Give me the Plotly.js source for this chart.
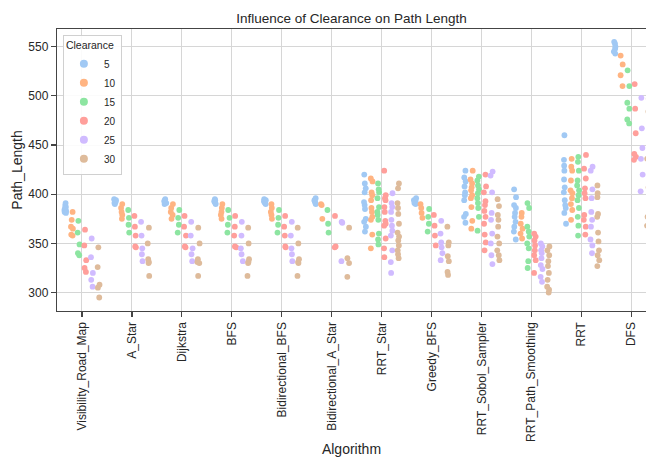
<!DOCTYPE html>
<html><head><meta charset="utf-8">
<script src="https://cdn.plot.ly/plotly-3.0.1.min.js"></script>
<style>html,body{margin:0;padding:0;overflow:hidden;background:#fff}</style>
</head><body><div id="chart" style="width:646px;height:457px"></div>
<script>
const algorithms = ["Visibility_Road_Map","A_Star","Dijkstra","BFS","Bidirectional_BFS","Bidirectional_A_Star","RRT_Star","Greedy_BFS","RRT_Sobol_Sampler","RRT_Path_Smoothing","RRT","DFS"];
const clearances = [5, 10, 15, 20, 25, 30];
const colors = ["#a1c9f4", "#ffb482", "#8de5a1", "#ff9f9b", "#d0bbff", "#debb9b"];

// each array: one list of path lengths per clearance (5,10,15,20,25,30)
const visibilityRoadMap = [
  [391, 389, 387, 386, 384, 383, 382, 381],
  [382, 374, 367, 365, 359, 358],
  [373, 361, 349, 340, 338],
  [364, 348, 333, 325, 321],
  [355, 336, 320, 313, 306],
  [346, 326, 308, 305, 295]
];
const aStar = [
  [395, 394, 393, 392, 391, 390],
  [390, 386, 382, 379, 375],
  [384, 376, 369, 361],
  [378, 367, 358, 347, 346],
  [372, 358, 345, 339, 332],
  [366, 350, 334, 331, 330, 317]
];
const dijkstra = [
  [395, 394, 393, 392, 391, 390],
  [390, 386, 382, 379, 375],
  [384, 376, 369, 361],
  [378, 367, 358, 347, 346],
  [372, 358, 345, 339, 332],
  [366, 350, 334, 331, 330, 317]
];
const bfs = [
  [395, 394, 393, 392, 391, 390],
  [390, 386, 382, 379, 375],
  [384, 376, 369, 361],
  [378, 367, 358, 347, 346],
  [372, 358, 345, 339, 332],
  [366, 350, 334, 331, 330, 317]
];
const bidirectionalBfs = [
  [395, 394, 393, 392, 391, 390],
  [390, 386, 382, 379, 375],
  [384, 376, 369, 361],
  [378, 367, 358, 347, 346],
  [372, 358, 345, 339, 332],
  [366, 350, 334, 331, 330, 317]
];
const bidirectionalAStar = [
  [396, 394, 393, 391, 390],
  [390, 389, 375],
  [384, 370, 361],
  [378, 347, 346],
  [372, 371, 332],
  [366, 335, 330, 316]
];
const rrtStar = [
  [420, 411, 406, 402, 392, 389, 385, 375, 372, 367, 362],
  [416, 413, 402, 399, 394, 386, 382, 377, 374, 359, 345],
  [411, 405, 402, 396, 387, 382, 379, 374, 360, 354, 349],
  [424, 399, 396, 394, 387, 382, 373, 370, 368, 355, 345, 336],
  [401, 391, 387, 382, 374, 368, 363, 358, 343, 331, 320],
  [411, 406, 391, 386, 380, 370, 361, 357, 353, 348, 343, 339, 335]
];
const greedyBfs = [
  [396, 394, 393, 392, 391, 390],
  [390, 386, 381, 376],
  [385, 377, 370, 362],
  [379, 368, 358, 348],
  [373, 360, 351, 346, 340, 333],
  [367, 351, 348, 337, 332, 321, 318]
];
const rrtSobolSampler = [
  [424, 417, 413, 408, 402, 399, 394, 380, 377, 371],
  [424, 415, 411, 407, 404, 399, 396, 387, 373, 365],
  [418, 414, 409, 405, 401, 396, 391, 386, 377, 363],
  [420, 408, 402, 393, 389, 383, 377, 370, 359, 351, 343],
  [423, 419, 402, 381, 374, 360, 350, 338, 329],
  [395, 388, 379, 374, 367, 357, 350, 343, 338, 333]
];
const rrtPathSmoothing = [
  [405, 397, 389, 386, 381, 377, 372, 367, 362, 354],
  [381, 377, 370, 365, 360, 355],
  [391, 386, 367, 362, 357, 350, 345, 332, 325],
  [360, 357, 353, 348, 343, 338, 333, 320],
  [350, 347, 343, 340, 335, 328, 324, 316, 311],
  [347, 343, 338, 332, 327, 320, 313, 306, 303, 300]
];
const rrt = [
  [460, 435, 429, 424, 415, 407, 402, 394, 389, 386, 381, 370],
  [436, 428, 424, 414, 404, 401, 396, 390, 384, 374],
  [438, 433, 424, 414, 409, 404, 399, 394, 386, 377, 368, 358],
  [440, 426, 416, 406, 401, 396, 379, 374, 367, 359],
  [428, 424, 405, 396, 382, 374, 367, 354, 348, 340],
  [409, 401, 397, 380, 377, 361, 352, 343, 338, 333, 327]
];
const dfs = [
  [555, 553, 550, 548, 545, 543],
  [541, 532, 521, 510],
  [526, 510, 493, 487, 476, 472],
  [512, 487, 462, 441, 438, 435],
  [498, 467, 447, 436, 420, 403],
  [497, 484, 436, 407, 377, 368]
];

const algorithmData = [visibilityRoadMap, aStar, dijkstra, bfs, bidirectionalBfs, bidirectionalAStar,
  rrtStar, greedyBfs, rrtSobolSampler, rrtPathSmoothing, rrt, dfs];

const traces = [];
clearances.forEach((c, h) => {
  const xs = [], ys = [];
  algorithms.forEach((a, i) => {
    algorithmData[i][h].forEach(v => { xs.push(a); ys.push(v); });
  });
  traces.push({
    type: 'box', x: xs, y: ys, name: String(c),
    boxpoints: 'all', jitter: 0.35, pointpos: 0,
    fillcolor: 'rgba(0,0,0,0)', line: {width: 0, color: 'rgba(0,0,0,0)'}, whiskerwidth: 0,
    marker: {color: colors[h], size: 5.8, opacity: 1, line: {width: 0}},
    showlegend: false, hoverinfo: 'skip'
  });
});
clearances.forEach((c, h) => {
  traces.push({
    type: 'scatter', mode: 'markers', x: [null], y: [null], name: String(c),
    marker: {color: colors[h], size: 8}, showlegend: true, hoverinfo: 'skip'
  });
});

const fontFam = '"Liberation Sans", Arial, sans-serif';
const layout = {
  width: 646, height: 457,
  margin: {l: 57, r: 0, t: 29, b: 146},
  paper_bgcolor: '#fff', plot_bgcolor: '#fff',
  font: {family: fontFam, color: '#262626', size: 12},
  title: {text: 'Influence of Clearance on Path Length', font: {size: 13.5, color: '#262626'},
          x: 0.5, xref: 'paper', xanchor: 'center', y: 1 - 18/457, yref: 'container', yanchor: 'middle'},
  boxmode: 'group', boxgap: 0.2, boxgroupgap: 0,
  xaxis: {
    type: 'category', categoryorder: 'array', categoryarray: algorithms,
    range: [-0.5, 11.29], showgrid: true, gridcolor: '#d6d6d6', gridwidth: 1,
    showline: true, linecolor: '#444', linewidth: 1.25, mirror: true,
    ticks: 'outside', ticklen: 5, tickwidth: 1.2, tickcolor: '#444',
    tickangle: -90, tickfont: {size: 12, color: '#262626'},
    title: {text: 'Algorithm', font: {size: 14, color: '#262626'}, standoff: 8},
    zeroline: false, automargin: false
  },
  yaxis: {
    range: [281.3, 568], dtick: 50, tick0: 300,
    showgrid: true, gridcolor: '#d6d6d6', gridwidth: 1,
    showline: true, linecolor: '#444', linewidth: 1.25, mirror: false,
    ticks: 'outside', ticklen: 5, tickwidth: 1.2, tickcolor: '#444',
    tickfont: {size: 12, color: '#262626'},
    title: {text: 'Path_Length', font: {size: 14, color: '#262626'}, standoff: 2},
    zeroline: false, automargin: false
  },
  legend: {
    x: 0.01, y: 0.98, xanchor: 'left', yanchor: 'top',
    bgcolor: 'rgba(255,255,255,0.9)', bordercolor: '#d0d0d0', borderwidth: 1,
    font: {size: 10, color: '#262626'},
    title: {text: 'Clearance', font: {size: 10.5, color: '#262626'}, side: 'top'},
    traceorder: 'normal', itemwidth: 30
  },
  showlegend: true
};
Plotly.newPlot('chart', traces, layout, {displayModeBar: false, staticPlot: true});
</script>
</body></html>
